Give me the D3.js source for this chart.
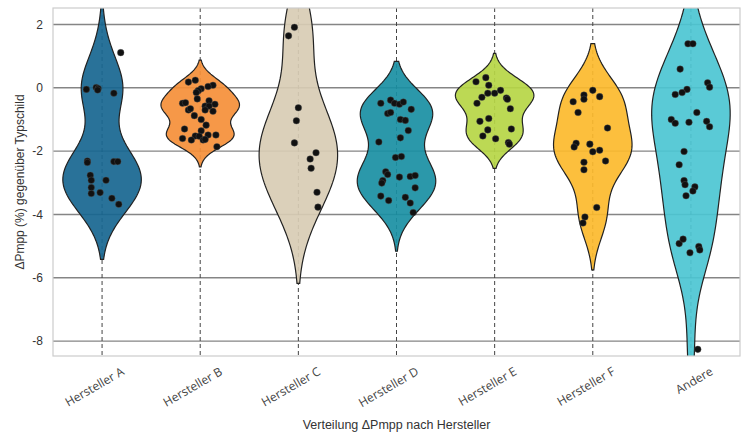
<!DOCTYPE html>
<html>
<head>
<meta charset="utf-8">
<script src="https://cdn.jsdelivr.net/npm/d3@7"></script>
<style>
  body { margin: 0; background: #fff; }
  svg { display: block; }
</style>
</head>
<body>
<main></main>
<script>
// data
const manufacturers = ['Hersteller A', 'Hersteller B', 'Hersteller C', 'Hersteller D', 'Hersteller E', 'Hersteller F', 'Andere']
const colorsList = ['#176690', '#f58f38', '#d8ccb4', '#198fa3', '#b6d645', '#fcba2c', '#4cc5d3']

const valuesA = [1.11, -0.05, 0.01, -0.02, -0.07, -0.17, -2.31, -2.36, -2.33, -2.33, -2.76, -2.92, -2.92, -3.15, -3.34, -3.31, -3.49, -3.68]
const jitterA = [0.19, -0.16, -0.06, -0.04, -0.045, 0.12, -0.15, -0.15, 0.12, 0.16, -0.12, -0.11, 0.04, -0.11, -0.11, -0.02, 0.10, 0.17]

const valuesB = [0.18, 0.24, 0.08, 0.04, -0.03, -0.09, -0.15, -0.35, -0.49, -0.47, -0.41, -0.52, -0.58, -0.58, -0.74, -0.70, -0.70, -0.66, -0.88, -1.00, -1.18, -1.30, -1.36, -1.52, -1.53, -1.49, -1.49, -1.60, -1.65, -1.65, -1.63, -1.86]
const jitterB = [-0.12, -0.05, 0.13, 0.08, 0.01, -0.02, -0.04, -0.03, -0.18, -0.15, 0.09, 0.15, 0.05, 0.09, 0.13, 0.05, -0.12, -0.10, -0.06, 0.01, 0.06, -0.16, 0.01, -0.05, -0.01, 0.08, 0.16, -0.18, -0.09, 0.03, 0.05, 0.17]

const valuesC = [1.91, 1.64, -0.63, -1.04, -1.74, -2.05, -2.25, -2.54, -3.30, -3.77]
const jitterC = [-0.04, -0.10, 0, -0.02, -0.04, 0.18, 0.12, 0.13, 0.19, 0.20]

const valuesD = [-0.49, -0.39, -0.49, -0.52, -0.45, -0.68, -0.81, -0.78, -1.00, -1.03, -1.35, -1.58, -1.71, -2.20, -2.17, -2.65, -2.74, -2.93, -3.01, -2.82, -2.80, -2.77, -3.16, -3.42, -3.56, -3.46, -3.64, -3.94]
const jitterD = [-0.16, -0.06, -0.02, 0.03, 0.07, 0.15, -0.09, -0.06, 0.04, 0.09, 0.12, 0.04, -0.18, -0.01, 0.05, -0.11, -0.09, -0.14, -0.15, 0.03, 0.14, 0.19, 0.19, -0.16, -0.08, 0.09, 0.14, 0.17]

const valuesE = [0.19, 0.32, 0.08, -0.17, -0.17, -0.08, -0.30, -0.32, -0.36, -0.49, -0.66, -0.97, -1.06, -1.30, -1.33, -1.52, -1.61, -1.73, -1.78]
const jitterE = [-0.19, -0.09, -0.06, -0.07, 0, 0.06, -0.13, 0.12, 0.13, -0.18, 0.16, -0.06, -0.15, 0.17, -0.07, -0.12, 0.01, 0.14, 0.15]

const valuesF = [-0.08, -0.23, -0.36, -0.28, -0.44, -0.78, -1.27, -1.75, -1.87, -1.78, -2.02, -1.97, -2.35, -2.31, -2.59, -3.78, -4.08, -4.27]
const jitterF = [0, -0.09, -0.09, 0.07, -0.20, -0.15, 0.15, -0.17, -0.19, -0.03, 0, 0.07, -0.09, 0.13, -0.09, 0.04, -0.08, -0.10]

const valuesOther = [1.39, 1.39, 0.59, 0.16, 0.02, -0.05, -0.15, -0.21, -0.78, -1.00, -1.12, -1.09, -1.06, -1.23, -2.01, -2.43, -2.93, -3.06, -3.13, -3.26, -3.41, -4.92, -4.78, -5.21, -5.01, -5.12, -8.26]
const jitterOther = [-0.03, 0.02, -0.11, 0.17, 0.19, -0.04, -0.09, -0.16, 0.06, -0.20, -0.16, -0.02, 0.16, 0.19, -0.07, -0.12, -0.07, -0.06, 0.04, 0.02, -0.05, -0.12, -0.08, -0.01, 0.08, 0.09, 0.07]

const yTicks = [2, 0, -2, -4, -6, -8]
const yDomain = [-8.47, 2.52]

const allValues = [valuesA, valuesB, valuesC, valuesD, valuesE, valuesF, valuesOther]
const allJitter = [jitterA, jitterB, jitterC, jitterD, jitterE, jitterF, jitterOther]

// size of svg
const size = { width: 748, height: 432 }
const margin = { top: 8, right: 8, bottom: 76, left: 53 }
const innerW = size.width - margin.left - margin.right
const innerH = size.height - margin.top - margin.bottom

const svg = d3.select('main').append('svg')
    .attr('width', size.width)
    .attr('height', size.height)

const x = d3.scaleBand().domain(manufacturers).range([margin.left, margin.left + innerW]).padding(0)
const y = d3.scaleLinear().domain(yDomain).range([margin.top + innerH, margin.top])

// clip for the plot area
svg.append('defs').append('clipPath').attr('id', 'plotclip')
    .append('rect')
    .attr('x', margin.left).attr('y', margin.top)
    .attr('width', innerW).attr('height', innerH)

// horizontal grid
svg.append('g')
    .selectAll('line')
    .data(yTicks)
    .enter()
    .append('line')
    .attr('x1', margin.left).attr('x2', margin.left + innerW)
    .attr('y1', d => y(d)).attr('y2', d => y(d))
    .attr('stroke', '#858585')
    .attr('stroke-width', 1.4)

// vertical dashed lines
svg.append('g')
    .selectAll('line')
    .data(manufacturers)
    .enter()
    .append('line')
    .attr('x1', d => x(d) + x.bandwidth() / 2).attr('x2', d => x(d) + x.bandwidth() / 2)
    .attr('y1', margin.top).attr('y2', margin.top + innerH)
    .attr('stroke', '#444')
    .attr('stroke-width', 1)
    .attr('stroke-dasharray', '4,3')

// gaussian kde, scott bandwidth, cut = 2
const kde = (values) => {
    const n = values.length
    const sd = d3.deviation(values)
    const bw = sd * Math.pow(n, -1 / 5)
    const lo = d3.min(values) - 2 * bw
    const hi = d3.max(values) + 2 * bw
    const grid = d3.range(100).map(i => lo + (hi - lo) * i / 99)
    return grid.map(v => {
        const dens = d3.sum(values, xi => Math.exp(-0.5 * ((v - xi) / bw) ** 2)) / (n * bw * Math.sqrt(2 * Math.PI))
        return { v: v, d: dens }
    })
}

const violins = svg.append('g').attr('clip-path', 'url(#plotclip)')

manufacturers.forEach((m, i) => {
    const dens = kde(allValues[i])
    const maxD = d3.max(dens, d => d.d)
    const cx = x(m) + x.bandwidth() / 2
    const w = d3.scaleLinear().domain([0, maxD]).range([0, x.bandwidth() * 0.4])
    const area = d3.area()
        .y(d => y(d.v))
        .x0(d => cx - w(d.d))
        .x1(d => cx + w(d.d))
    violins.append('path')
        .datum(dens)
        .attr('d', area)
        .attr('fill', colorsList[i])
        .attr('fill-opacity', 0.92)
        .attr('stroke', '#222')
        .attr('stroke-width', 1.2)
})

// points
manufacturers.forEach((m, i) => {
    const cx = x(m) + x.bandwidth() / 2
    svg.append('g')
        .selectAll('circle')
        .data(allValues[i])
        .enter()
        .append('circle')
        .attr('cx', (d, j) => cx + allJitter[i][j] * x.bandwidth())
        .attr('cy', d => y(d))
        .attr('r', 3.3)
        .attr('fill', '#111')
        .attr('stroke', '#555')
        .attr('stroke-width', 0.4)
})

// frame
svg.append('rect')
    .attr('x', margin.left).attr('y', margin.top)
    .attr('width', innerW).attr('height', innerH)
    .attr('fill', 'none')
    .attr('stroke', '#cccccc')
    .attr('stroke-width', 1.2)

// y axis
const yAxis = svg.append('g')
    .attr('transform', 'translate(' + margin.left + ',0)')
    .call(d3.axisLeft(y).tickValues(yTicks).tickSize(0).tickPadding(10).tickFormat(d => String(d)))
yAxis.select('.domain').remove()
yAxis.selectAll('text')
    .attr('font-family', '"Liberation Sans", Arial, sans-serif')
    .attr('font-size', 12)
    .attr('fill', '#333')

// x tick labels
svg.append('g')
    .selectAll('text')
    .data(manufacturers)
    .enter()
    .append('text')
    .attr('transform', d => 'translate(' + (x(d) + x.bandwidth() / 2 + 23) + ',' + 374 + ') rotate(-30)')
    .attr('text-anchor', 'end')
    .attr('font-family', '"Open Sans", sans-serif')
    .attr('font-size', 12)
    .attr('fill', '#444')
    .text(d => d)

// axis titles
svg.append('text')
    .attr('x', margin.left + innerW / 2)
    .attr('y', 429)
    .attr('text-anchor', 'middle')
    .attr('font-family', '"Liberation Sans", Arial, sans-serif')
    .attr('font-size', 12.5)
    .attr('fill', '#333')
    .text('Verteilung ΔPmpp nach Hersteller')

svg.append('text')
    .attr('transform', 'translate(24,' + (margin.top + innerH / 2) + ') rotate(-90)')
    .attr('text-anchor', 'middle')
    .attr('font-family', '"Liberation Sans", Arial, sans-serif')
    .attr('font-size', 12)
    .attr('fill', '#333')
    .text('ΔPmpp (%) gegenüber Typschild')
</script>
</body>
</html>
